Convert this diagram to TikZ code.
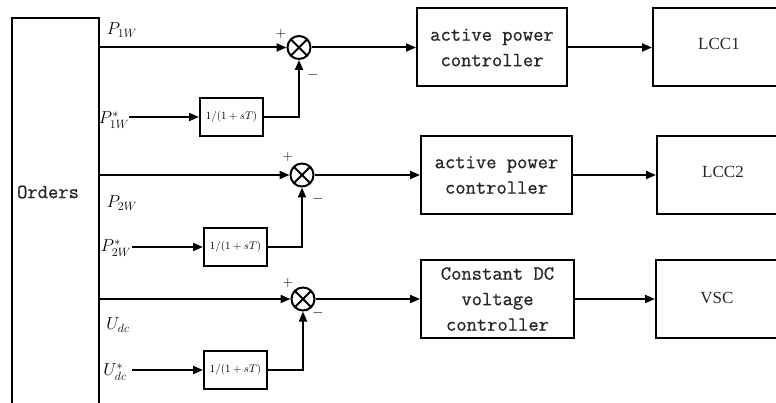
\documentclass[tikz,border=0pt]{standalone}
\usepackage{fontspec}
\newfontfamily\convfont{Liberation Serif}
\newfontfamily\ctrlfont{Latin Modern Mono}[FakeBold=0.8]
\usetikzlibrary{arrows.meta}
\begin{document}
\begin{tikzpicture}[x=1pt,y=-1pt,
  wire/.style={line width=2pt},
  arr/.style={wire,-{Triangle[length=10pt,width=8pt]}},
  blk/.style={draw,line width=2pt,inner sep=0pt,align=center},
  ctrl/.style={blk,minimum width=150pt,minimum height=78pt,
    font=\fontsize{20}{25.5}\selectfont\ctrlfont,text=black!85},
  conv/.style={blk,minimum width=137pt,minimum height=78pt},
  convtxt/.style={font=\fontsize{17}{20}\selectfont\convfont,text=black!85},
  tf/.style={blk,minimum width=63pt,minimum height=38pt,
    font=\fontsize{11}{13}\selectfont},
  sumnode/.style={draw,circle,line width=2pt,minimum size=23pt,inner sep=0pt,
    path picture={
      \draw[line width=2pt] (path picture bounding box.south west) -- (path picture bounding box.north east);
      \draw[line width=2pt] (path picture bounding box.north west) -- (path picture bounding box.south east);}},
  sig/.style={font=\fontsize{18}{20}\selectfont},
  sgn/.style={font=\fontsize{14}{14}\selectfont,inner sep=0pt}
]
\useasboundingbox (0,0) rectangle (776,403);
\clip (0,0) rectangle (776,403);

% order block on the left
\node[blk,minimum width=87pt,minimum height=402pt] (orders) at (55.5,219) {};
\node[font=\fontsize{20}{24}\selectfont\ctrlfont,text=black!85] (ordtxt) at (48,192) {Orders};

% summing junctions
\node[sumnode] (sum1) at (299,47.5) {};
\node[sumnode] (sum2) at (302,175) {};
\node[sumnode] (sum3) at (303,299) {};

\node[sgn] (p1) at (281,34) {+};
\node[sgn] (m1) at (313,75) {$-$};
\node[sgn] (p2) at (288,157) {+};
\node[sgn] (m2) at (318,199) {$-$};
\node[sgn] (p3) at (288,283) {+};
\node[sgn] (m3) at (318,313) {$-$};

% first-order filters
\node[tf] (tf1) at (231.5,117) {$1/(1+sT)$};
\node[tf] (tf2) at (235.5,247) {$1/(1+sT)$};
\node[tf] (tf3) at (235.5,370) {$1/(1+sT)$};

% controllers
\node[ctrl] (c1) at (492,47.5) {active power\\controller};
\node[ctrl,minimum width=151pt] (c2) at (496.5,175) {active power\\controller};
\node[ctrl,minimum width=153pt] (c3) at (497.5,299) {Constant DC\\voltage\\controller};

% converters
\node[conv] (lcc1) at (721.5,47.5) {};
\node[conv] (lcc2) at (725.5,175) {};
\node[conv] (vsc) at (724.5,299) {};
\node[convtxt] (t1) at (719,44) {LCC1};
\node[convtxt] (t2) at (723,172) {LCC2};
\node[convtxt] (t3) at (717,298) {VSC};

% signal labels
\node[sig] (l1) at (122,30) {$P_{1W}$};
\node[sig] (r1) at (114,120) {$P^*_{1W}$};
\node[sig] (l2) at (122,203) {$P_{2W}$};
\node[sig] (r2) at (116,248) {$P^*_{2W}$};
\node[sig] (l3) at (118,325) {$U_{dc}$};
\node[sig] (r3) at (115,372) {$U^*_{dc}$};

% measured signals into the junctions
\draw[arr] (sum1 -| orders.east) -- (sum1.west);
\draw[arr] (sum2 -| orders.east) -- (sum2.west);
\draw[arr] (sum3 -| orders.east) -- (sum3.west);

% reference signals through the filters
\coordinate (in1) at (129,117);
\coordinate (in2) at (132,247);
\coordinate (in3) at (132,370);
\draw[arr] (in1) -- (tf1.west);
\draw[arr] (in2) -- (tf2.west);
\draw[arr] (in3) -- (tf3.west);
\draw[arr] (tf1.east) -| (sum1.south);
\draw[arr] (tf2.east) -| (sum2.south);
\draw[arr] (tf3.east) -| (sum3.south);

% forward path
\draw[arr] (sum1.east) -- (c1.west);
\draw[arr] (sum2.east) -- (c2.west);
\draw[arr] (sum3.east) -- (c3.west);
\draw[arr] (c1.east) -- (lcc1.west);
\draw[arr] (c2.east) -- (lcc2.west);
\draw[arr] (c3.east) -- (vsc.west);
\end{tikzpicture}
\end{document}
